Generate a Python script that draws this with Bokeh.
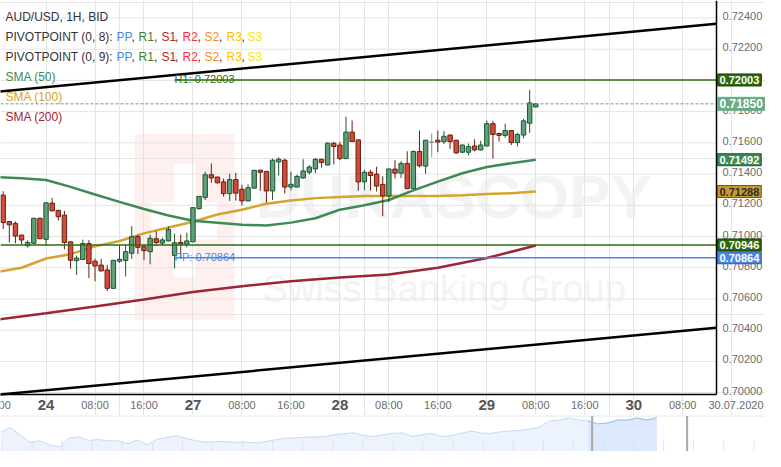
import numpy as np
from bokeh.plotting import figure
from bokeh.models import (ColumnDataSource, Range1d, FixedTicker, Label, Grid, BoxAnnotation)
from bokeh.layouts import column
from bokeh.embed import file_html
from bokeh.resources import INLINE
from bokeh.core.properties import value

FONT = "Liberation Sans"

# ---------------- data ----------------
candle_idx = list(range(1, 89))
opens = [0.71265, 0.71096, 0.71084, 0.71009, 0.70941, 0.70957, 0.71117, 0.70982, 0.71214, 0.71168,
         0.71137, 0.70966, 0.70846, 0.70853, 0.70955, 0.70842, 0.70817, 0.70786, 0.70668, 0.70842,
         0.70847, 0.70893, 0.70999, 0.70935, 0.70903, 0.70986, 0.70958, 0.70972, 0.70879, 0.70962,
         0.70951, 0.70966, 0.71179, 0.71251, 0.71396, 0.71381, 0.71350, 0.71275, 0.71365, 0.71303,
         0.71228, 0.71310, 0.71425, 0.71417, 0.71292, 0.71478, 0.71489, 0.71317, 0.71317, 0.71375,
         0.71412, 0.71433, 0.71495, 0.71458, 0.71598, 0.71586, 0.71499, 0.71669, 0.71619, 0.71350,
         0.71412, 0.71400, 0.71334, 0.71261, 0.71432, 0.71406, 0.71468, 0.71307, 0.71545, 0.71451,
         0.71605, 0.71617, 0.71608, 0.71650, 0.71617, 0.71540, 0.71540, 0.71580, 0.71555, 0.71580,
         0.71723, 0.71660, 0.71648, 0.71679, 0.71602, 0.71650, 0.71726, 0.71830]
highs = [0.71290, 0.71098, 0.71096, 0.71011, 0.70976, 0.71120, 0.71120, 0.71219, 0.71247, 0.71169,
         0.71164, 0.70968, 0.70878, 0.70980, 0.70977, 0.70858, 0.70858, 0.70817, 0.70850, 0.70943,
         0.70949, 0.71067, 0.71011, 0.70949, 0.71013, 0.71034, 0.70993, 0.71065, 0.71019, 0.71013,
         0.71024, 0.71187, 0.71259, 0.71416, 0.71468, 0.71383, 0.71371, 0.71402, 0.71408, 0.71331,
         0.71334, 0.71427, 0.71427, 0.71420, 0.71499, 0.71509, 0.71499, 0.71416, 0.71396, 0.71495,
         0.71458, 0.71503, 0.71498, 0.71603, 0.71607, 0.71607, 0.71768, 0.71743, 0.71622, 0.71427,
         0.71427, 0.71447, 0.71385, 0.71436, 0.71489, 0.71484, 0.71546, 0.71551, 0.71679, 0.71619,
         0.71660, 0.71679, 0.71675, 0.71653, 0.71619, 0.71591, 0.71596, 0.71623, 0.71613, 0.71743,
         0.71741, 0.71665, 0.71723, 0.71681, 0.71664, 0.71754, 0.71940, 0.71852]
lows = [0.71048, 0.70962, 0.70957, 0.70951, 0.70929, 0.70952, 0.70983, 0.70941, 0.71163, 0.71102,
        0.70918, 0.70794, 0.70754, 0.70852, 0.70734, 0.70713, 0.70776, 0.70651, 0.70667, 0.70831,
        0.70744, 0.70858, 0.70887, 0.70848, 0.70822, 0.70941, 0.70941, 0.70968, 0.70796, 0.70858,
        0.70931, 0.70964, 0.71172, 0.71234, 0.71344, 0.71340, 0.71256, 0.71228, 0.71230, 0.71199,
        0.71226, 0.71309, 0.71293, 0.71217, 0.71234, 0.71391, 0.71276, 0.71296, 0.71315, 0.71371,
        0.71396, 0.71406, 0.71441, 0.71455, 0.71462, 0.71489, 0.71498, 0.71607, 0.71292, 0.71296,
        0.71296, 0.71288, 0.71131, 0.71220, 0.71371, 0.71375, 0.71303, 0.71306, 0.71443, 0.71402,
        0.71509, 0.71540, 0.71592, 0.71561, 0.71530, 0.71535, 0.71520, 0.71546, 0.71551, 0.71579,
        0.71499, 0.71608, 0.71633, 0.71586, 0.71577, 0.71629, 0.71664, 0.71828]
closes = [0.71090, 0.71075, 0.71003, 0.70978, 0.70962, 0.71117, 0.70986, 0.71216, 0.71164, 0.71127,
          0.70962, 0.70848, 0.70862, 0.70955, 0.70827, 0.70811, 0.70780, 0.70668, 0.70848, 0.70854,
          0.70903, 0.70999, 0.70931, 0.70910, 0.70989, 0.70962, 0.70978, 0.71045, 0.70960, 0.70951,
          0.70972, 0.71185, 0.71257, 0.71396, 0.71375, 0.71344, 0.71275, 0.71365, 0.71278, 0.71228,
          0.71313, 0.71424, 0.71412, 0.71292, 0.71489, 0.71495, 0.71317, 0.71334, 0.71385, 0.71420,
          0.71445, 0.71495, 0.71474, 0.71598, 0.71577, 0.71499, 0.71669, 0.71608, 0.71350, 0.71412,
          0.71391, 0.71323, 0.71261, 0.71433, 0.71406, 0.71468, 0.71307, 0.71545, 0.71453, 0.71617,
          0.71605, 0.71605, 0.71642, 0.71608, 0.71536, 0.71586, 0.71576, 0.71555, 0.71586, 0.71723,
          0.71654, 0.71648, 0.71679, 0.71602, 0.71654, 0.71741, 0.71856, 0.71850]

sma50_idx = [0, 4, 8, 12, 16, 20, 24, 28, 32, 36, 40, 44, 48, 52, 56, 60, 64, 68, 72, 76, 80, 84, 88]
sma50 = [0.71380, 0.71374, 0.71362, 0.71318, 0.71269, 0.71222, 0.71176, 0.71135, 0.71101, 0.71089,
         0.71076, 0.71070, 0.71089, 0.71117, 0.71172, 0.71200, 0.71234, 0.71296, 0.71352, 0.71405,
         0.71445, 0.71470, 0.71492]
sma100_idx = [0, 4, 8, 12, 16, 20, 24, 28, 32, 36, 40, 44, 48, 52, 56, 60, 64, 68, 72, 76, 80, 84, 88]
sma100 = [0.70772, 0.70800, 0.70859, 0.70887, 0.70937, 0.70971, 0.71020, 0.71058, 0.71095, 0.71141,
          0.71172, 0.71210, 0.71231, 0.71246, 0.71253, 0.71259, 0.71259, 0.71259, 0.71260, 0.71265,
          0.71272, 0.71278, 0.71288]
sma200_idx = [0, 8, 16, 24, 32, 40, 48, 56, 64, 72, 80, 88]
sma200 = [0.70468, 0.70509, 0.70552, 0.70596, 0.70645, 0.70682, 0.70713, 0.70738, 0.70757, 0.70800,
          0.70862, 0.70943]

trend_idx = [0, 117.5]
upper_trend = [0.71927, 0.72363]
lower_trend = [0.69986, 0.70416]

pivot_start = 29
r1_level = 0.72003
pp_level = 0.70864
s_level = 0.70946
last_price = 0.71850

box_values = [0.72003, 0.71850, 0.71492, 0.71288, 0.70946, 0.70864]
box_texts = ["0.72003", "0.71850", "0.71492", "0.71288", "0.70946", "0.70864"]

y_ticks = [0.700, 0.702, 0.704, 0.706, 0.708, 0.710, 0.712, 0.714, 0.716, 0.718, 0.720, 0.722, 0.724]
y_tick_text = ["%.5f" % v for v in y_ticks]
time_idx = [0, 16, 24, 40, 48, 64, 72, 88, 96, 112]
time_text = ["16:00", "08:00", "16:00", "08:00", "16:00", "08:00", "16:00", "08:00", "16:00", "08:00"]
day_idx = [8, 32, 56, 80, 104]
day_text = ["24", "27", "28", "29", "30"]
date_text = "30.07.2020"

nav_vals = [22, 27, 18.7, 10.3, 12, 7.7, 5, 15, 16.5, 12.5,
            13.5, 12, 12, 8.7, 13, 7.7, 13.7, 16, 17.7, 14.5,
            12, 10.7, 11, 11.3, 10.3, 10.7, 9.7, 11, 13, 14.7,
            15.3, 16, 16.3, 16.7, 18.7, 20, 21, 18, 17, 18.7,
            20.3, 21, 17, 18.7, 20.3, 17, 17.7, 20.3, 23, 21,
            20.3, 22, 23, 23.7, 25.3, 27, 34.3, 35.3, 37.7, 35.3,
            34.3, 31, 32, 35.3, 35.3, 37.7, 35.3, 38]
nav_sel = (60.4, 70.1)

# ---------------- geometry ----------------
W, H_MAIN, H_NAV = 765, 415, 36
CHART_W, CHART_H = 716, 394           # chart area (left of the price scale, above the time row)
X0, X1 = 0.56, 117.52                 # visible hours in the chart area
Y0, Y1 = 0.69988, 0.72512             # visible prices in the chart area
XR = X0 + (X1 - X0) * W / CHART_W     # frame also holds the price-scale column
YB = Y0 - (Y1 - Y0) * (H_MAIN - CHART_H) / CHART_H   # and the time-label row
REF_W, REF_H = 731.0, 407.0


def rx(px):
    return X0 + px / REF_W * (X1 - X0)


def ry(py):
    return Y1 - py / REF_H * (Y1 - Y0)


GREEN_F, GREEN_L = "#5f9f79", "#1f5532"
RED_F, RED_L = "#d64a3a", "#66200f"
AXIS_GREY = "#6b6b6b"

p = figure(width=W, height=H_MAIN, x_range=Range1d(X0, XR), y_range=Range1d(YB, Y1),
           x_axis_location=None, y_axis_location=None, output_backend="svg",
           toolbar_location=None, min_border=0)
p.outline_line_color = None
p.background_fill_color = "white"
p.border_fill_color = "white"

# grid
p.add_layout(Grid(dimension=0, ticker=FixedTicker(ticks=sorted(time_idx + day_idx)),
                  grid_line_color="#e4e4e4", grid_line_width=1))
p.segment(x0=[X0] * len(y_ticks), y0=y_ticks, x1=[X1] * len(y_ticks), y1=y_ticks,
          line_color="#e4e4e4", line_width=1, level="underlay")

# watermark (decoration)
for (l, r, t, b, c) in [(137, 239, 138, 330, "#fdf0ee"), (154, 221, 208, 247, "white"),
                        (177, 199, 169, 286, "white")]:
    p.add_layout(BoxAnnotation(left=rx(l), right=rx(r), top=ry(t), bottom=ry(b),
                               fill_color=c, fill_alpha=1, line_color=None, level="image"))
p.add_layout(Label(x=X0, y=Y1, x_offset=255, y_offset=-196, text="DUKASCOPY", text_font=FONT,
                   text_font_style="bold", text_font_size="62px", text_color="#f3f3f3",
                   text_baseline="middle", level="image"))
p.add_layout(Label(x=X0, y=Y1, x_offset=262, y_offset=-288, text="Swiss Banking Group", text_font=FONT,
                   text_font_size="38px", text_color="#f3f3f3", text_baseline="middle", level="image"))

# SMAs
p.line(sma200_idx, sma200, line_color="#9c2637", line_width=2.5)
p.line(sma100_idx, sma100, line_color="#d4a42c", line_width=2.5)
p.line(sma50_idx, sma50, line_color="#3d8a54", line_width=2.5)

# candles
fill, line = [], []
for o, c in zip(opens, closes):
    if c > o:
        fill.append(GREEN_F); line.append(GREEN_L)
    elif c < o:
        fill.append(RED_F); line.append(RED_L)
    else:
        fill.append("#8c8c8c"); line.append("#8c8c8c")
src = ColumnDataSource(dict(x=candle_idx, o=opens, h=highs, l=lows, c=closes,
                            top=[max(a, b) for a, b in zip(opens, closes)],
                            bot=[min(a, b) for a, b in zip(opens, closes)],
                            fill=fill, line=line))
p.segment(x0="x", y0="l", x1="x", y1="h", line_color="line", line_width=1, source=src)
p.vbar(x="x", width=0.72, top="top", bottom="bot", fill_color="fill", line_color="line",
       line_width=1, source=src)

# levels
p.line([X0, X1], [s_level, s_level], line_color="#2d6e0e", line_width=1.5)
p.line([pivot_start, X1], [r1_level, r1_level], line_color="#2d6e0e", line_width=1.5)
p.line([pivot_start, X1], [pp_level, pp_level], line_color="#4a86e8", line_width=1.5)
p.line([X0, X1], [last_price, last_price], line_color="#5ea67c", line_width=1, line_dash="3 2")

# trend lines
p.line(trend_idx, upper_trend, line_color="black", line_width=2.5)
p.line(trend_idx, lower_trend, line_color="black", line_width=2.5)

p.add_layout(Label(x=pivot_start, y=r1_level, y_offset=1, text="R1: %.5f" % r1_level, text_font=FONT,
                   text_font_size="11px", text_color="#2d6e0e", text_baseline="alphabetic"))
p.add_layout(Label(x=pivot_start, y=pp_level, y_offset=1, text="PP: %.5f" % pp_level, text_font=FONT,
                   text_font_size="11px", text_color="#4a86e8", text_baseline="alphabetic"))

# price scale (right) and time scale (bottom)
p.line([X1, X1], [Y0, Y1], line_color="black", line_width=1.5)
p.line([X0, X1], [Y0, Y0], line_color="black", line_width=1.5)
p.text(x=[X1] * len(y_ticks), y=y_ticks, text=y_tick_text, x_offset=6, y_offset=-2,
       text_baseline="middle", text_align="left", text_font=value(FONT), text_font_size="11px",
       text_color=AXIS_GREY)
p.text(x=time_idx, y=[Y0] * len(time_idx), text=time_text, y_offset=10, text_align="center",
       text_baseline="middle", text_font=value(FONT), text_font_size="11px", text_color=AXIS_GREY)
p.text(x=day_idx, y=[Y0] * len(day_idx), text=day_text, y_offset=10, text_align="center",
       text_baseline="middle", text_font=value(FONT), text_font_size="15px",
       text_font_style="bold", text_color="#555555")
p.text(x=[XR], y=[Y0], text=[date_text], x_offset=-2, y_offset=10, text_align="right",
       text_baseline="middle", text_font=value(FONT), text_font_size="11px", text_color=AXIS_GREY)

# legend
DARK = "#333333"
piv = [("PP", 116, "#4a86e8"), (",", 131, DARK), ("R1", 138, "#3b7d2a"),
       (",", 153.5, DARK), ("S1", 161, "#b8262e"), (",", 174.5, DARK), ("R2", 182, "#ff3030"),
       (",", 197, DARK), ("S2", 204, "#ff8a25"), (",", 218.5, DARK), ("R3", 226, "#ffbf00"),
       (",", 241, DARK), ("S3", 247, "#f7e41a")]
legend_rows = [
    [("AUD/USD, 1H, BID", 5, DARK)],
    [("PIVOTPOINT (0, 8): ", 5, DARK)] + piv,
    [("PIVOTPOINT (0, 9): ", 5, DARK)] + piv,
    [("SMA (50)", 5, "#3d8a54")],
    [("SMA (100)", 5, "#d4a42c")],
    [("SMA (200)", 5, "#9c2637")],
]
for k, row in enumerate(legend_rows):
    for txt, px, col in row:
        p.add_layout(Label(x=X0, y=Y1, x_offset=px, y_offset=-(16 + 20 * k), text=txt,
                           text_font=FONT, text_font_size="12px", text_color=col,
                           text_baseline="middle"))

# right-side value boxes
box_style = [("#2c6a0c", "white", "11px", "#173f05"),
             ("#6aaa84", "white", "12px", "#6aaa84"),
             ("#3d8a55", "white", "11px", "#1f5532"),
             ("#c99b2e", "#2b2b2b", "11px", "#6e520e"),
             ("#2c6a0c", "white", "11px", "#173f05"),
             ("#4a86e8", "white", "11px", "#2a5bb0")]
for v, t, (bg, fg, fs, bd) in zip(box_values, box_texts, box_style):
    p.add_layout(Label(x=X1, y=v, x_offset=1, text=t, text_font=FONT, text_font_size=fs,
                       text_font_style="bold", text_color=fg, text_baseline="middle",
                       background_fill_color=bg, border_line_color=bd, padding=2))

# ---------------- navigator ----------------
nav_x = list(range(len(nav_vals)))
nav = figure(width=W, height=H_NAV, x_range=Range1d(0, 78.1), y_range=Range1d(0, 40.5),
             x_axis_location=None, y_axis_location=None,
             output_backend="svg", toolbar_location=None, min_border=0)
nav.grid.visible = False
nav.outline_line_color = None
nav.background_fill_color = "white"
nav.border_fill_color = "white"
nav.varea(x=nav_x, y1=0, y2=nav_vals, fill_color="#edf3fd")
nav.line(nav_x, nav_vals, line_color="#c6d9f7", line_width=1)
sel_x = [x for x in nav_x if x >= int(nav_sel[0])]
sel_v = [nav_vals[x] for x in sel_x]
nav.varea(x=sel_x, y1=0, y2=sel_v, fill_color="#dce8fb")
nav.line(sel_x, sel_v, line_color="#9bbcf1", line_width=1)
tick_pos = [0.16 + 3.07 * k for k in range(26)]
nav.segment(x0=tick_pos, y0=0, x1=tick_pos, y1=12, line_color="#e2e2e2", line_width=1)
nav.line([0, 78.1], [40, 40], line_color="#e2e2e2", line_width=1)
nav.segment(x0=list(nav_sel), y0=0, x1=list(nav_sel), y1=40, line_color="#a8a8a8", line_width=2)

layout = column(p, nav, spacing=0)
open("out.html", "w").write(file_html(layout, INLINE))
